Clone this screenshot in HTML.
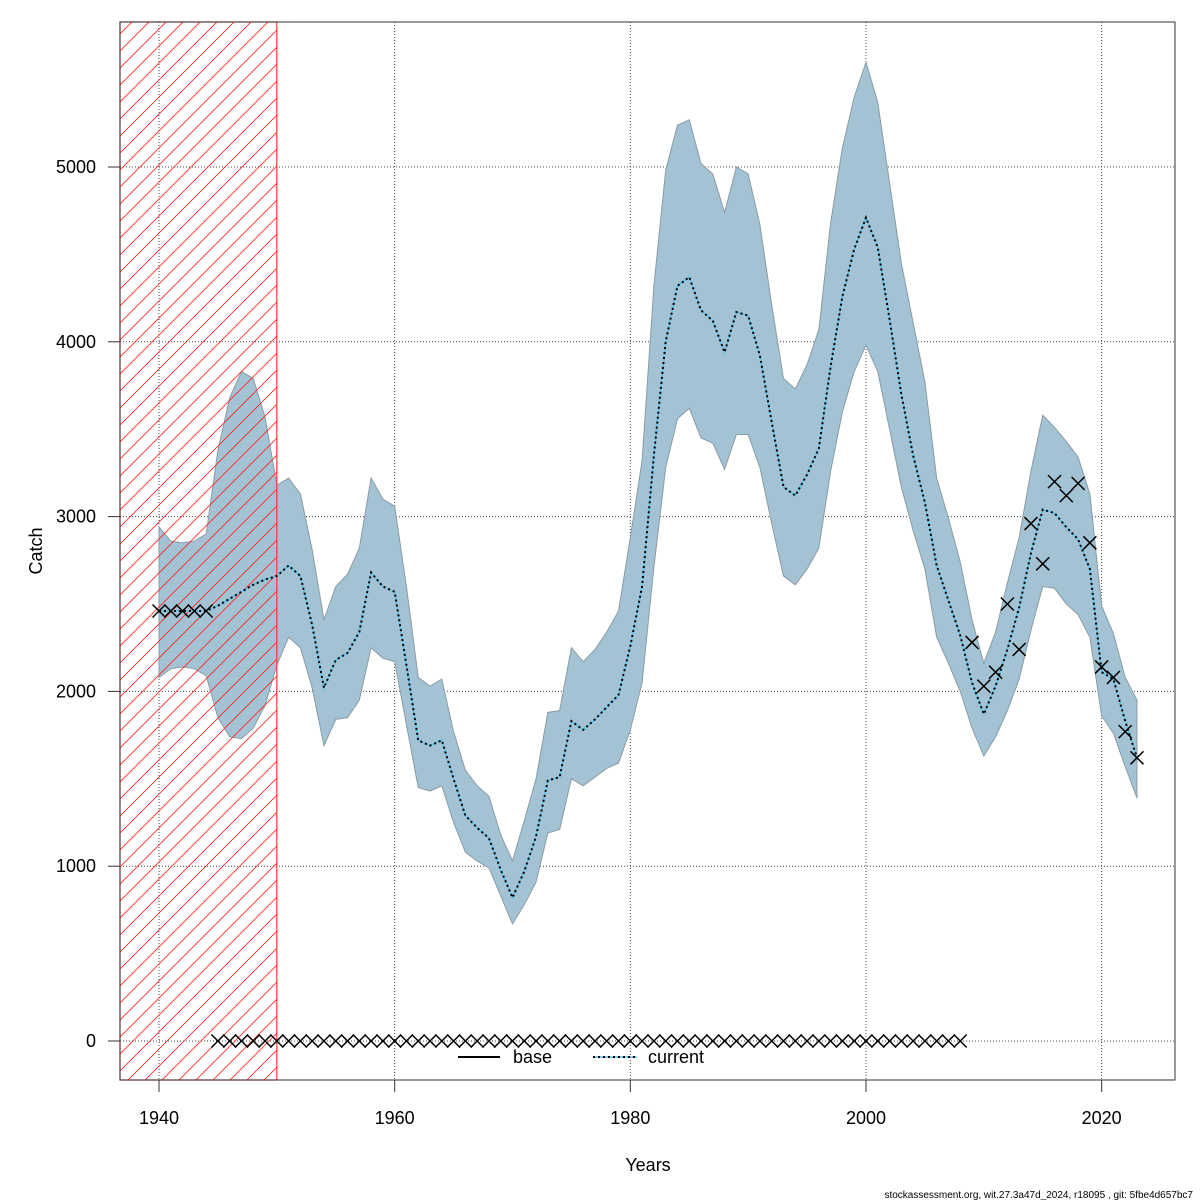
<!DOCTYPE html>
<html><head><meta charset="utf-8"><style>
body{margin:0;background:#fff;}
svg{display:block;font-family:"Liberation Sans",sans-serif;}
</style></head><body>
<svg id="chart" width="1200" height="1200" viewBox="0 0 1200 1200" xmlns="http://www.w3.org/2000/svg">
<defs>
<pattern id="hatch" patternUnits="userSpaceOnUse" width="17" height="17" patternTransform="translate(120,0)">
<line x1="0" y1="17" x2="17" y2="0" stroke="#ff2020" stroke-width="0.8"/>
<line x1="-1" y1="1" x2="1" y2="-1" stroke="#ff2020" stroke-width="0.8"/>
<line x1="16" y1="18" x2="18" y2="16" stroke="#ff2020" stroke-width="0.8"/>
</pattern>
<clipPath id="plotclip"><rect x="120" y="22" width="1055" height="1058"/></clipPath>
</defs>
<g id="grid"></g>
<g id="band" clip-path="url(#plotclip)"></g>
<rect id="hatchrect" fill="url(#hatch)" stroke="#ff3030" stroke-width="1.2"/>
<g id="lines"></g>
<g id="obs"></g>
<g id="axes"></g>
<rect x="120" y="22" width="1055" height="1058" fill="none" stroke="#333" stroke-width="1"/>
<g>
<line x1="458" y1="1057" x2="500" y2="1057" stroke="#000" stroke-width="2"/>
<text x="513" y="1063" font-size="18">base</text>
<line x1="593" y1="1057" x2="637" y2="1057" stroke="#5bc0eb" stroke-width="1.5"/>
<line x1="593" y1="1057" x2="637" y2="1057" stroke="#000" stroke-width="2" stroke-dasharray="2,3"/>
<text x="648" y="1063" font-size="18">current</text>
</g>
<text x="648" y="1171" font-size="18" text-anchor="middle">Years</text>
<text x="0" y="0" font-size="18" text-anchor="middle" transform="translate(42,551) rotate(-90)">Catch</text>
<text x="1193" y="1198" font-size="10" text-anchor="end">stockassessment.org, wit.27.3a47d_2024, r18095 , git: 5fbe4d657bc7</text>
</svg>
<script>
const startYear = 1940;
const midVals = [2460,2460,2460,2460,2460,2490,2530,2570,2610,2640,2660,2720,2660,2380,2020,2180,2220,2340,2680,2600,2570,2150,1720,1690,1720,1500,1290,1220,1160,980,820,970,1170,1490,1510,1830,1780,1840,1910,1980,2260,2600,3350,4000,4320,4370,4180,4120,3940,4170,4150,3920,3540,3170,3120,3240,3390,3860,4260,4530,4710,4540,4130,3700,3350,3080,2720,2520,2320,2050,1870,2030,2240,2480,2790,3040,3020,2940,2870,2700,2110,2070,1830,1620];
const upperVals = [2940,2860,2850,2860,2900,3380,3680,3830,3790,3570,3180,3220,3130,2810,2410,2600,2670,2820,3220,3100,3060,2600,2080,2030,2070,1770,1550,1460,1400,1180,1030,1260,1500,1880,1890,2250,2170,2240,2340,2460,2880,3320,4320,4980,5240,5270,5020,4960,4740,5000,4960,4670,4210,3790,3730,3870,4070,4680,5110,5400,5600,5370,4910,4450,4110,3770,3220,2990,2740,2410,2160,2340,2620,2880,3260,3580,3510,3430,3340,3130,2490,2330,2080,1950];
const lowerVals = [2080,2130,2140,2130,2090,1850,1740,1730,1790,1920,2150,2310,2250,2020,1690,1840,1850,1950,2250,2190,2170,1810,1450,1430,1460,1250,1080,1030,990,830,670,780,910,1190,1210,1500,1460,1510,1560,1590,1780,2050,2710,3280,3560,3620,3450,3420,3270,3470,3470,3280,2960,2660,2610,2700,2820,3260,3600,3830,3980,3830,3500,3170,2920,2700,2310,2160,2000,1790,1630,1740,1890,2070,2350,2600,2590,2500,2440,2310,1860,1760,1570,1390];
const obsYears = [1940,1941,1942,1943,1944].concat(Array.from({length:64},(_,i)=>1945+i)).concat([2009,2010,2011,2012,2013,2014,2015,2016,2017,2018,2019,2020,2021,2022,2023]);
const obsVals = [2460,2460,2460,2460,2460].concat(Array(64).fill(0)).concat([2280,2030,2110,2500,2240,2960,2730,3200,3120,3190,2850,2140,2080,1770,1620]);
const xTicks = [1940,1960,1980,2000,2020];
const yTicks = [0,1000,2000,3000,4000,5000];
const hatchEndYear = 1950;

const NS="http://www.w3.org/2000/svg";
const X = y => 159 + (y-1940)*11.783;
const Y = v => 1041 - v*0.1748;
function mk(tag, attrs, parent){const e=document.createElementNS(NS,tag);for(const k in attrs)e.setAttribute(k,attrs[k]);parent.appendChild(e);return e;}
const grid=document.getElementById('grid'), axes=document.getElementById('axes');
xTicks.forEach(t=>{
  const gl=mk('line',{x1:X(t),x2:X(t),y1:22,y2:1080,stroke:'#444','stroke-width':1,'stroke-dasharray':'1,2'},grid);
  
  
  const tk=mk('line',{x1:X(t),x2:X(t),y1:1080,y2:1092,stroke:'#333'},axes);
  
  
  const tx=mk('text',{x:X(t),y:1124,'font-size':18,'text-anchor':'middle'},axes);
  tx.textContent=t;
  
  
});
yTicks.forEach(t=>{
  const gl=mk('line',{x1:120,x2:1175,y1:Y(t),y2:Y(t),stroke:'#444','stroke-width':1,'stroke-dasharray':'1,2'},grid);
  
  
  const tk=mk('line',{x1:108,x2:120,y1:Y(t),y2:Y(t),stroke:'#333'},axes);
  
  
  const tx=mk('text',{x:96,y:Y(t)+6,'font-size':18,'text-anchor':'end'},axes);
  tx.textContent=t;
  
  
});
const hr=document.getElementById('hatchrect');
hr.setAttribute('x',120);hr.setAttribute('y',22);hr.setAttribute('width',X(hatchEndYear)-120);hr.setAttribute('height',1058);
let pts=[];
upperVals.forEach((v,i)=>pts.push(X(startYear+i)+','+Y(v)));
for(let i=lowerVals.length-1;i>=0;i--)pts.push(X(startYear+i)+','+Y(lowerVals[i]));
const poly=mk('polygon',{points:pts.join(' '),fill:'#a3c3d4',stroke:'#8a9ba5','stroke-width':1},document.getElementById('band'));


const lines=document.getElementById('lines');
const mp=midVals.map((v,i)=>X(startYear+i)+','+Y(v)).join(' ');
const l1=mk('polyline',{points:mp,fill:'none',stroke:'#5bc0eb','stroke-width':1.5},lines);


const l2=mk('polyline',{points:mp,fill:'none',stroke:'#000','stroke-width':2,'stroke-dasharray':'2,3'},lines);


const obs=document.getElementById('obs');
obsYears.forEach((yr,i)=>{
  const cx=X(yr), cy=Y(obsVals[i]), s=6.5;
  const p=mk('path',{d:`M${cx-s},${cy-s}L${cx+s},${cy+s}M${cx-s},${cy+s}L${cx+s},${cy-s}`,stroke:'#000','stroke-width':1.5,fill:'none'},obs);
  
  
});
</script>
</body></html>
